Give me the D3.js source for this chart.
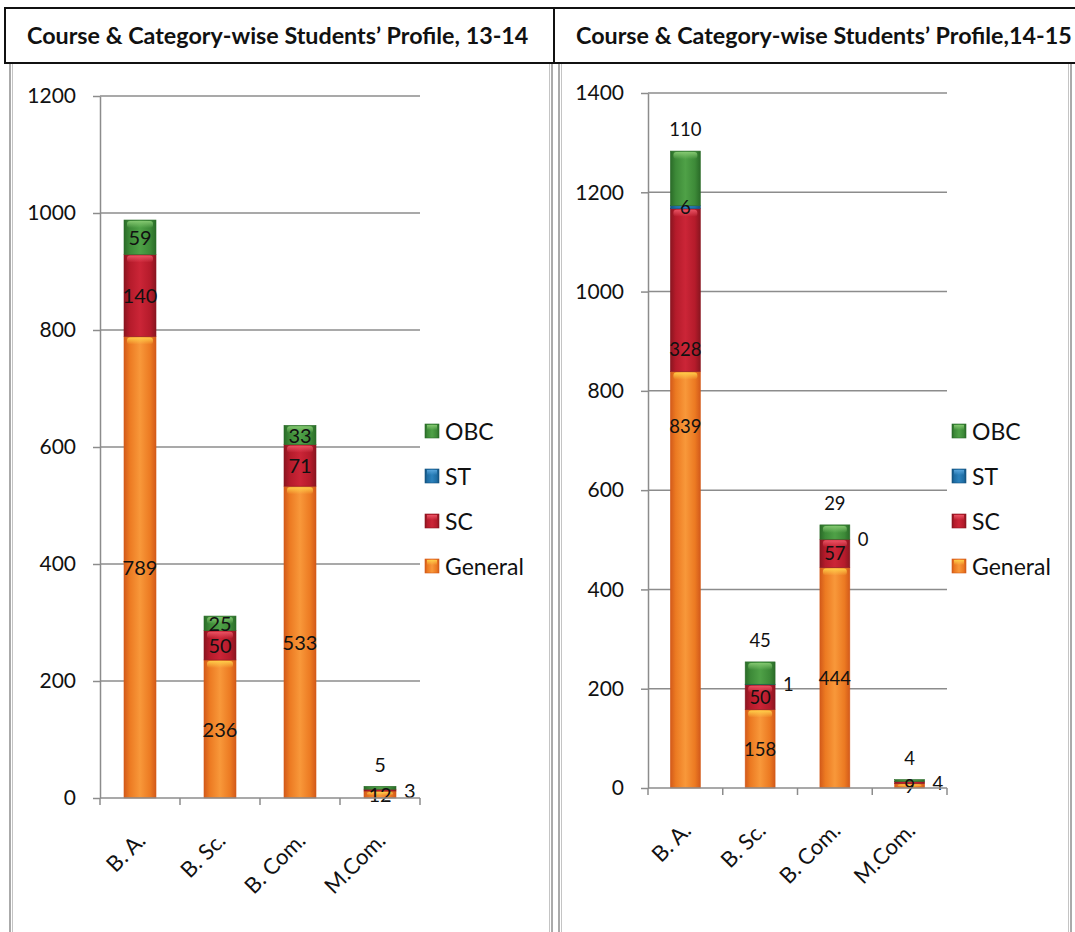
<!DOCTYPE html>
<html>
<head>
<meta charset="utf-8">
<script src="https://cdn.jsdelivr.net/npm/d3@7"></script>
<style>
  body { margin: 0; background: #fff; }
  svg { display: block; font-family: Lato, "Open Sans", sans-serif; }
</style>
</head>
<body>
<script>
const width = 1075;
const height = 932;

const courses = ["B. A.", "B. Sc.", "B. Com.", "M.Com."];
const categories = ["General", "SC", "ST", "OBC"];

// 2013-14
const general1314 = [789, 236, 533, 12];
const sc1314 = [140, 50, 71, 3];
const st1314 = [0, 0, 0, 0];
const obc1314 = [59, 25, 33, 5];

// 2014-15
const general1415 = [839, 158, 444, 9];
const sc1415 = [328, 50, 57, 4];
const st1415 = [6, 1, 0, 0];
const obc1415 = [110, 45, 29, 4];

const titles = [
  "Course & Category-wise Students\u2019 Profile, 13-14",
  "Course & Category-wise Students\u2019 Profile,14-15"
];

// where each data label sits: "c" centre, "a" above bar, "r" right of bar,
// "-" hidden, a number = fraction up the segment
const place1314 = {
  General: ["c", "c", "c", "c"],
  SC: ["c", "c", "c", "r"],
  ST: ["-", "-", "-", "-"],
  OBC: ["c", "c", "c", "a"]
};
const place1415 = {
  General: [0.87, "c", "c", "c"],
  SC: [0.14, "c", "c", "r"],
  ST: ["c", "r", "r", "-"],
  OBC: ["a", "a", "a", "a"]
};

const colors = {
  General: { dark: "#d35a1a", mid: "#ec7a22", light: "#f8983a", cap: "#ffd04a" },
  SC: { dark: "#8a1520", mid: "#b51b2b", light: "#cb2537", cap: "#ec5566" },
  ST: { dark: "#14537f", mid: "#1f6ea5", light: "#2c82bd", cap: "#5aa6dc" },
  OBC: { dark: "#2a6b28", mid: "#3d8a38", light: "#4fa147", cap: "#86c972" }
};

const svg = d3
  .select("body")
  .append("svg")
  .attr("width", width)
  .attr("height", height);

const defs = svg.append("defs");
categories.forEach((c) => {
  const col = colors[c];
  const g = defs
    .append("linearGradient")
    .attr("id", "grad-" + c)
    .attr("x1", "0%")
    .attr("x2", "100%")
    .attr("y1", "0%")
    .attr("y2", "0%");
  g.append("stop").attr("offset", "0%").attr("stop-color", col.dark);
  g.append("stop").attr("offset", "18%").attr("stop-color", col.mid);
  g.append("stop").attr("offset", "50%").attr("stop-color", col.light);
  g.append("stop").attr("offset", "82%").attr("stop-color", col.mid);
  g.append("stop").attr("offset", "100%").attr("stop-color", col.dark);

  const cap = defs
    .append("linearGradient")
    .attr("id", "cap-" + c)
    .attr("x1", "0%")
    .attr("x2", "0%")
    .attr("y1", "0%")
    .attr("y2", "100%");
  cap.append("stop").attr("offset", "0%").attr("stop-color", col.cap).attr("stop-opacity", 0.95);
  cap.append("stop").attr("offset", "100%").attr("stop-color", col.cap).attr("stop-opacity", 0);
});

// frames and title boxes
const frames = [
  { x: 10, w: 542, tx: 5, tw: 549 },
  { x: 559, w: 512, tx: 554, tw: 530 }
];
frames.forEach((f, i) => {
  svg
    .append("rect")
    .attr("x", f.x)
    .attr("y", 60)
    .attr("width", f.w)
    .attr("height", 900)
    .attr("fill", "none")
    .attr("stroke", "#8f8f8f")
    .attr("stroke-width", 1.5);
  svg
    .append("rect")
    .attr("x", f.x + 2.5)
    .attr("y", 62)
    .attr("width", f.w - 5)
    .attr("height", 900)
    .attr("fill", "none")
    .attr("stroke", "#c4c4c4")
    .attr("stroke-width", 1);
  svg
    .append("rect")
    .attr("x", f.tx)
    .attr("y", 8)
    .attr("width", f.tw)
    .attr("height", 55)
    .attr("fill", "#fff")
    .attr("stroke", "#111")
    .attr("stroke-width", 2);
  svg
    .append("text")
    .attr("x", f.tx + 22)
    .attr("y", 35)
    .attr("dominant-baseline", "central")
    .attr("font-weight", "700")
    .attr("font-size", "23.3px")
    .attr("fill", "#111")
    .text(titles[i]);
});

const drawChart = (cfg) => {
  const g = svg.append("g");
  const x = d3
    .scaleBand()
    .domain(courses)
    .range([cfg.x0, cfg.x1])
    .paddingInner(0.6)
    .paddingOuter(0.3);
  const y = d3.scaleLinear().domain([0, cfg.max]).range([cfg.y0, cfg.y1]);
  const ticks = d3.range(0, cfg.max + 1, 200);

  // gridlines
  g.selectAll(".grid")
    .data(ticks.slice(1))
    .enter()
    .append("line")
    .attr("x1", cfg.x0)
    .attr("x2", cfg.x1)
    .attr("y1", (d) => y(d))
    .attr("y2", (d) => y(d))
    .attr("stroke", "#8c8c8c")
    .attr("stroke-width", 1.5);

  const yAxis = g
    .append("g")
    .attr("transform", `translate(${cfg.x0},0)`)
    .call(
      d3
        .axisLeft(y)
        .tickValues(ticks)
        .tickFormat(d3.format("d"))
        .tickSize(7)
        .tickSizeOuter(0)
        .tickPadding(17)
    );
  yAxis.select(".domain").attr("stroke", "#8c8c8c").attr("stroke-width", 1.5);
  yAxis.selectAll(".tick line").attr("stroke", "#8c8c8c").attr("stroke-width", 1.5);
  yAxis
    .selectAll(".tick text")
    .attr("font-size", "21px")
    .attr("font-family", "Lato, sans-serif")
    .attr("fill", "#111");

  // stacked bars
  const rows = courses.map((c, i) => {
    const r = { course: c };
    categories.forEach((k) => (r[k] = cfg.series[k][i]));
    return r;
  });
  const stack = d3.stack().keys(categories)(rows);

  stack.forEach((layer) => {
    const key = layer.key;
    const lg = g.append("g");
    lg.selectAll("rect.seg")
      .data(layer)
      .enter()
      .append("rect")
      .attr("class", "seg")
      .attr("x", (d) => x(d.data.course))
      .attr("width", x.bandwidth())
      .attr("y", (d) => y(d[1]))
      .attr("height", (d) => y(d[0]) - y(d[1]))
      .attr("fill", `url(#grad-${key})`)
      .attr("stroke", colors[key].dark)
      .attr("stroke-width", 0.6);
    lg.selectAll("rect.cap")
      .data(layer.filter((d) => y(d[0]) - y(d[1]) > 4))
      .enter()
      .append("rect")
      .attr("class", "cap")
      .attr("x", (d) => x(d.data.course) + 3)
      .attr("width", x.bandwidth() - 6)
      .attr("y", (d) => y(d[1]) + 1)
      .attr("height", (d) => Math.min(7, (y(d[0]) - y(d[1])) / 2))
      .attr("rx", 3)
      .attr("fill", `url(#cap-${key})`);
  });

  // data labels
  stack.forEach((layer) => {
    const key = layer.key;
    layer.forEach((d, i) => {
      const mode = cfg.place[key][i];
      if (mode === "-") return;
      const cx = x(d.data.course) + x.bandwidth() / 2;
      const total = d3.sum(categories, (k) => d.data[k]);
      let lx = cx;
      let ly = y((d[0] + d[1]) / 2);
      let anchor = "middle";
      if (mode === "a") {
        ly = y(total) - 22;
      } else if (mode === "r") {
        lx = x(d.data.course) + x.bandwidth() + 8;
        anchor = "start";
      } else if (typeof mode === "number") {
        ly = y(d[0] + (d[1] - d[0]) * mode);
      }
      g.append("text")
        .attr("x", lx)
        .attr("y", ly)
        .attr("text-anchor", anchor)
        .attr("dominant-baseline", "central")
        .attr("font-size", cfg.labelSize)
        .attr("fill", "#111")
        .text(d.data[key]);
    });
  });

  // x axis
  g.append("line")
    .attr("x1", cfg.x0)
    .attr("x2", cfg.x1)
    .attr("y1", cfg.y0)
    .attr("y2", cfg.y0)
    .attr("stroke", "#8c8c8c")
    .attr("stroke-width", 1.5);
  const bounds = courses.map((c) => x(c) + x.bandwidth() / 2 - x.step() / 2);
  bounds.push(cfg.x1);
  g.selectAll(".xtick")
    .data(bounds)
    .enter()
    .append("line")
    .attr("x1", (d) => d)
    .attr("x2", (d) => d)
    .attr("y1", cfg.y0)
    .attr("y2", cfg.y0 + 7)
    .attr("stroke", "#8c8c8c")
    .attr("stroke-width", 1.5);
  const xAxis = g
    .append("g")
    .attr("transform", `translate(0,${cfg.y0})`)
    .call(d3.axisBottom(x).tickSize(0).tickSizeOuter(0));
  xAxis.select(".domain").remove();
  xAxis
    .selectAll(".tick text")
    .attr("x", 0)
    .attr("y", 0)
    .attr("dy", 0)
    .attr("transform", "translate(7,44) rotate(-45)")
    .attr("text-anchor", "end")
    .attr("font-size", "22px")
    .attr("font-family", "Lato, sans-serif")
    .attr("fill", "#111");

  // legend
  const legendKeys = categories.slice().reverse();
  const legend = g.append("g").attr("transform", `translate(${cfg.legendX},${cfg.legendY})`);
  legendKeys.forEach((k, i) => {
    const item = legend.append("g").attr("transform", `translate(0,${i * 45})`);
    item
      .append("rect")
      .attr("x", 0)
      .attr("y", -7)
      .attr("width", 14)
      .attr("height", 14)
      .attr("fill", `url(#grad-${k})`)
      .attr("stroke", colors[k].dark)
      .attr("stroke-width", 0.6);
    item
      .append("rect")
      .attr("x", 2)
      .attr("y", -6)
      .attr("width", 10)
      .attr("height", 5)
      .attr("fill", `url(#cap-${k})`);
    item
      .append("text")
      .attr("x", 20)
      .attr("y", 0)
      .attr("dominant-baseline", "central")
      .attr("font-size", "23px")
      .attr("fill", "#111")
      .text(k);
  });
};

drawChart({
  x0: 100,
  x1: 420,
  y0: 798,
  y1: 96,
  max: 1200,
  series: { General: general1314, SC: sc1314, ST: st1314, OBC: obc1314 },
  place: place1314,
  labelSize: "20px",
  legendX: 425,
  legendY: 431
});

drawChart({
  x0: 648,
  x1: 947,
  y0: 788,
  y1: 93,
  max: 1400,
  series: { General: general1415, SC: sc1415, ST: st1415, OBC: obc1415 },
  place: place1415,
  labelSize: "18.5px",
  legendX: 952,
  legendY: 431
});
</script>
</body>
</html>
